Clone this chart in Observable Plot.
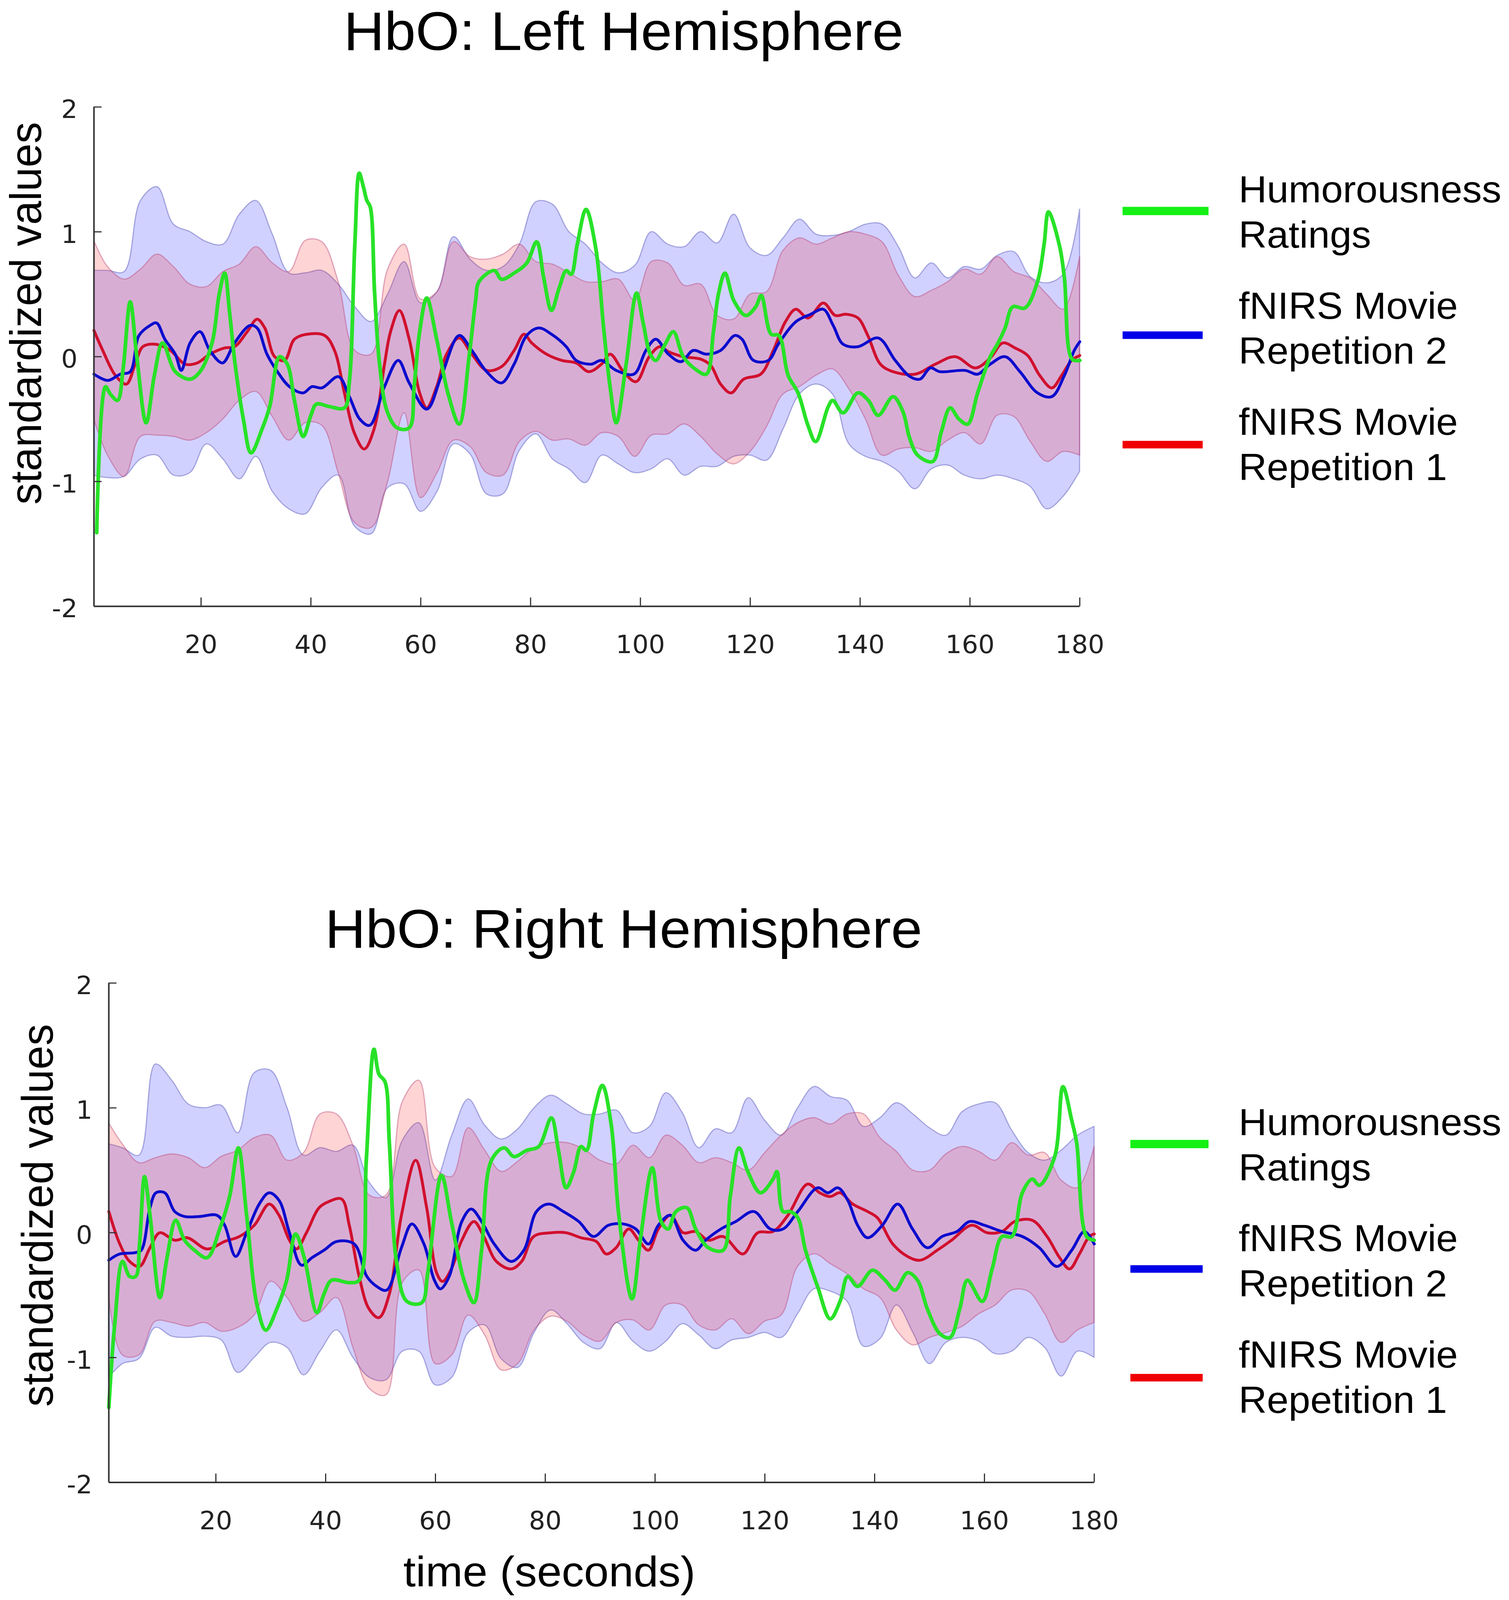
<!DOCTYPE html>
<html><head><meta charset="utf-8">
<script src="https://cdn.jsdelivr.net/npm/d3@7"></script>
<script src="https://cdn.jsdelivr.net/npm/@observablehq/plot@0.6"></script>
<style>
html,body{margin:0;padding:0;background:#fff;overflow:hidden;}
#root{position:relative;width:3862px;height:4239px;background:#fff;overflow:hidden;font-family:"Liberation Sans",Arial,sans-serif;color:#000;transform-origin:0 0;}
.abs{position:absolute;white-space:nowrap;}
.title{font-size:144px;line-height:normal;transform:translateX(-50%);}
.leg{font-size:100px;line-height:120px;}
.sw{position:absolute;}
.xlab{font-size:114px;line-height:normal;transform:translateX(-50%);}
</style></head><body><div id="root"></div>
<script>
// ---------- data ----------
const titles = ["HbO: Left Hemisphere", "HbO: Right Hemisphere"];
const yLabel = "standardized values";
const xLabel = "time (seconds)";
const legendLabels = [["Humorousness", "Ratings"], ["fNIRS Movie", "Repetition 2"], ["fNIRS Movie", "Repetition 1"]];
const xDomain = [0.5, 180];
const yDomain = [-2, 2];
const xTicks = [20, 40, 60, 80, 100, 120, 140, 160, 180];
const yTicks = [-2, -1, 0, 1, 2];

// shared sampling times of the confidence bands
const bandT = [0.5,3,6,9,12,15,18,21,24,27,30,33,36,39,42,45,48,51,54,57,60,63,66,69,72,75,78,81,84,87,90,93,96,99,102,105,108,111,114,117,120,123,126,129,132,135,138,141,144,147,150,153,156,159,162,165,168,171,174,177,180];

// ---- Left hemisphere ----
const leftBlueHi = [0.69,0.69,0.68,1.25,1.36,1.06,1.0,0.92,0.9,1.14,1.25,0.98,0.67,0.67,0.69,0.58,0.4,0.28,0.5,0.76,0.43,0.52,0.96,0.78,0.69,0.72,0.9,1.24,1.22,1.0,0.9,0.75,0.67,0.73,1.0,0.9,0.88,1.0,0.91,1.14,0.87,0.81,0.95,1.1,0.98,0.97,1.0,1.06,1.06,0.88,0.63,0.75,0.63,0.72,0.7,0.81,0.84,0.64,0.59,0.66,1.18];
const leftBlueLo = [-0.95,-0.97,-0.96,-0.82,-0.79,-0.95,-0.93,-0.7,-0.82,-0.98,-0.8,-1.08,-1.22,-1.26,-1.05,-0.95,-1.36,-1.42,-1.05,-1.02,-1.24,-1.08,-0.7,-0.78,-1.1,-1.1,-0.75,-0.62,-0.82,-0.9,-1.01,-0.79,-0.86,-0.93,-0.9,-0.82,-0.95,-0.88,-0.88,-0.8,-0.79,-0.83,-0.58,-0.3,-0.22,-0.3,-0.7,-0.8,-0.84,-0.92,-1.06,-0.9,-0.87,-0.95,-0.98,-0.95,-0.98,-1.04,-1.22,-1.12,-0.92];
const leftRedHi = [0.93,0.72,0.62,0.7,0.82,0.72,0.58,0.56,0.68,0.74,0.88,0.75,0.68,0.93,0.92,0.6,0.05,0.02,0.7,0.9,0.46,0.52,0.92,0.8,0.78,0.82,0.9,0.76,0.74,0.67,0.6,0.6,0.62,0.45,0.76,0.75,0.57,0.58,0.33,0.3,0.5,0.52,0.85,0.95,0.9,0.95,1.0,0.98,0.92,0.65,0.48,0.53,0.6,0.7,0.66,0.8,0.68,0.63,0.5,0.38,0.8];
const leftRedLo = [-0.5,-0.79,-0.96,-0.64,-0.63,-0.64,-0.67,-0.61,-0.5,-0.35,-0.28,-0.48,-0.67,-0.53,-0.55,-0.93,-1.33,-1.37,-1.0,-0.45,-1.13,-0.93,-0.67,-0.72,-0.93,-0.95,-0.68,-0.6,-0.67,-0.66,-0.71,-0.61,-0.64,-0.8,-0.63,-0.62,-0.54,-0.64,-0.78,-0.86,-0.76,-0.56,-0.3,-0.24,-0.15,-0.1,-0.26,-0.5,-0.79,-0.74,-0.73,-0.76,-0.67,-0.61,-0.7,-0.47,-0.48,-0.68,-0.84,-0.76,-0.79];
const leftGreen = [[1,-1.41],[2.6,-0.24],[3.5,-0.3],[4.8,-0.35],[5.8,-0.1],[7.1,0.44],[8.3,0.0],[10,-0.53],[11.5,-0.15],[13,0.11],[15.3,-0.12],[18,-0.18],[19.8,-0.12],[22,0.11],[23.3,0.5],[24.3,0.67],[25.2,0.35],[26.2,-0.06],[27.7,-0.5],[29.1,-0.77],[31.1,-0.58],[32.5,-0.4],[34.3,0.0],[35.7,-0.06],[37,-0.35],[38.6,-0.64],[40,-0.47],[41,-0.38],[43.4,-0.4],[46.1,-0.41],[47,-0.2],[48,0.9],[48.8,1.47],[49.5,1.37],[50.2,1.25],[50.8,1.2],[51.6,0.51],[52.5,-0.06],[53.9,-0.44],[55.7,-0.57],[57.9,-0.57],[58.8,-0.24],[59.8,0.2],[61.1,0.47],[62.9,0.14],[65,-0.3],[67,-0.54],[68.8,0.0],[70,0.45],[70.6,0.6],[73.4,0.69],[74.7,0.62],[77,0.67],[79.3,0.75],[81.1,0.92],[82.4,0.63],[83.8,0.37],[85.2,0.55],[86.5,0.69],[87.4,0.66],[88.5,0.9],[90.1,1.18],[91.9,0.86],[93.3,0.23],[94.5,-0.25],[95.6,-0.53],[97.4,-0.06],[99.3,0.51],[100.5,0.27],[101.8,0.02],[102.8,-0.03],[104.5,0.1],[106,0.2],[107.8,0.0],[110,-0.1],[112,-0.14],[113.3,0.2],[114.2,0.5],[115.4,0.67],[117,0.45],[119.2,0.33],[121,0.4],[122,0.49],[123.8,0.18],[125.2,0.17],[126.9,-0.15],[128.7,-0.29],[130.5,-0.55],[131.9,-0.68],[134.2,-0.4],[135,-0.35],[136.9,-0.45],[139.6,-0.29],[141.5,-0.35],[143.3,-0.47],[146,-0.32],[147.8,-0.44],[149,-0.65],[150.5,-0.79],[153.2,-0.84],[154.8,-0.6],[156.4,-0.41],[158,-0.5],[159.6,-0.54],[161.4,-0.29],[163.7,0.0],[165,0.1],[166.4,0.23],[167.8,0.4],[170,0.39],[172.3,0.6],[173.5,0.9],[174.3,1.16],[176.3,0.89],[177.2,0.63],[178.6,-0.02],[180,-0.03]];
const leftBlue = [[0.5,-0.14],[3,-0.19],[5.3,-0.14],[7.1,-0.12],[8.7,0.17],[10.7,0.25],[11.9,0.27],[13.4,0.14],[15.3,0.02],[16.4,-0.11],[18,0.11],[19.8,0.2],[21.6,0.05],[23.9,-0.05],[26.1,0.11],[28.9,0.25],[30.2,0.23],[32,0.02],[33.9,-0.12],[36.1,-0.24],[38.6,-0.29],[40.2,-0.24],[42,-0.25],[45,-0.16],[47,-0.32],[48.9,-0.5],[50.7,-0.55],[53.4,-0.24],[55.9,-0.03],[57.9,-0.21],[61.1,-0.42],[63.8,-0.15],[67,0.17],[69.3,0.05],[72,-0.12],[74.7,-0.21],[77,-0.06],[79.3,0.17],[81.5,0.23],[83.8,0.18],[86.5,0.08],[88.3,-0.03],[91,-0.06],[92.9,-0.03],[95.6,-0.11],[98.8,-0.14],[101,0.05],[102.8,0.14],[105.1,0.02],[107.4,-0.04],[109.6,0.05],[112,0.02],[114.6,0.05],[117.2,0.17],[118.5,0.14],[120.6,-0.03],[123.3,-0.03],[125.1,0.1],[128.3,0.28],[131,0.34],[133.3,0.38],[135.1,0.25],[136.9,0.1],[139.6,0.08],[143.3,0.15],[146.4,-0.03],[149.1,-0.16],[150.9,-0.18],[152.8,-0.09],[154.5,-0.12],[159.1,-0.11],[161.4,-0.14],[163.7,-0.06],[166.4,0.0],[169.1,-0.12],[172.3,-0.29],[174.9,-0.32],[177.2,-0.15],[179,0.05],[180,0.12]];
const leftRed = [[0.5,0.21],[2.1,0.05],[4.4,-0.15],[6.4,-0.22],[8,-0.06],[9.4,0.08],[11.6,0.1],[14.4,0.05],[17.1,-0.06],[19.3,-0.05],[21.6,0.02],[24.3,0.07],[26.1,0.08],[28.4,0.2],[30.2,0.3],[31.6,0.23],[33.4,0.0],[35.2,-0.03],[37,0.14],[39.3,0.18],[42.5,0.17],[44.3,0.05],[46.1,-0.29],[47.9,-0.61],[49.7,-0.74],[51.5,-0.58],[53.4,-0.06],[54.5,0.2],[56.1,0.37],[57.9,0.14],[59.8,-0.29],[61.1,-0.41],[62.9,-0.24],[64.7,0.02],[67,0.15],[69.3,0.02],[72,-0.11],[74.7,-0.08],[77,0.05],[78.8,0.18],[80.2,0.11],[82.9,0.02],[85.7,-0.03],[88.3,-0.05],[90.6,-0.12],[92.9,-0.06],[94.5,0.02],[96.9,-0.12],[99.2,-0.2],[101.6,0.0],[103.5,0.08],[105.1,0.04],[107.8,0.0],[111,-0.02],[112.8,-0.07],[114.6,-0.22],[116.5,-0.29],[118.8,-0.18],[121.9,-0.14],[124.2,0.05],[126.4,0.28],[128.3,0.38],[130.5,0.31],[133.3,0.43],[135.5,0.33],[137.4,0.34],[139.6,0.31],[141.4,0.17],[143.7,-0.06],[146,-0.12],[150,-0.14],[153.7,-0.06],[157.3,0.0],[161,-0.09],[163.7,-0.01],[166,0.11],[168.2,0.07],[170.5,0.01],[172.7,-0.15],[174.9,-0.25],[176.7,-0.15],[178.5,-0.03],[180,0.01]];

// ---- Right hemisphere ----
const rightBlueHi = [0.71,0.68,0.62,1.35,1.22,1.03,1.0,1.02,0.8,1.28,1.3,1.0,0.62,0.68,0.65,0.7,0.4,0.28,0.74,0.88,0.42,0.78,1.07,0.86,0.75,0.83,1.0,1.1,1.03,0.95,0.95,0.98,0.8,0.85,1.12,0.96,0.68,0.83,0.8,1.08,0.9,0.78,1.0,1.17,1.09,1.06,0.85,0.92,1.04,0.95,0.84,0.78,0.97,1.03,1.04,0.82,0.64,0.58,0.66,0.78,0.85];
const rightBlueLo = [-1.16,-1.05,-1.01,-0.76,-0.83,-0.84,-0.83,-0.86,-1.12,-1.0,-0.88,-0.92,-1.14,-0.95,-0.78,-1.0,-1.16,-1.18,-0.95,-0.95,-1.22,-1.16,-0.8,-0.74,-1.01,-1.08,-0.8,-0.62,-0.73,-0.88,-0.93,-0.72,-0.87,-0.95,-0.87,-0.73,-0.82,-0.93,-0.86,-0.84,-0.8,-0.84,-0.65,-0.45,-0.47,-0.55,-0.91,-0.85,-0.58,-0.8,-1.05,-0.88,-0.84,-0.87,-0.97,-0.95,-0.84,-0.92,-1.15,-0.95,-1.0];
const rightRedHi = [0.88,0.71,0.56,0.6,0.63,0.6,0.52,0.61,0.66,0.76,0.78,0.58,0.64,0.95,0.95,0.7,0.3,0.3,1.05,1.22,0.52,0.45,0.84,0.66,0.49,0.57,0.68,0.72,0.72,0.67,0.58,0.55,0.7,0.6,0.78,0.7,0.56,0.6,0.56,0.5,0.64,0.78,0.88,0.92,0.87,0.95,0.95,0.76,0.65,0.5,0.5,0.63,0.69,0.65,0.58,0.72,0.62,0.64,0.42,0.36,0.69];
const rightRedLo = [-0.5,-0.98,-0.98,-0.71,-0.72,-0.75,-0.72,-0.79,-0.76,-0.66,-0.39,-0.52,-0.71,-0.64,-0.52,-0.92,-1.25,-1.3,-0.4,-0.3,-1.05,-0.98,-0.66,-0.82,-1.1,-1.05,-0.78,-0.67,-0.71,-0.82,-0.87,-0.72,-0.7,-0.78,-0.58,-0.58,-0.74,-0.78,-0.69,-0.81,-0.71,-0.66,-0.27,-0.17,-0.25,-0.33,-0.45,-0.52,-0.78,-0.9,-0.84,-0.8,-0.75,-0.65,-0.58,-0.46,-0.47,-0.65,-0.88,-0.78,-0.72];
const rightGreen = [[0.5,-1.4],[1.6,-0.72],[3,-0.23],[4.3,-0.35],[5.4,-0.35],[6.1,-0.09],[7,0.45],[8,0.14],[9.8,-0.52],[11.1,-0.2],[12.7,0.1],[14.3,-0.06],[16.1,-0.14],[18.4,-0.2],[20.7,0.03],[22.5,0.29],[24.1,0.68],[25.6,0.14],[27.5,-0.58],[29.1,-0.78],[31.1,-0.61],[32.9,-0.38],[34.5,-0.01],[36.1,-0.2],[38.4,-0.64],[39.7,-0.49],[41.1,-0.38],[44.3,-0.4],[46.1,-0.38],[47.4,0.58],[48.8,1.47],[49.7,1.27],[50.8,1.21],[51.6,0.72],[52.9,-0.23],[54.8,-0.55],[57.5,-0.56],[58.6,-0.32],[61.1,0.46],[62.9,0.09],[65.2,-0.38],[67,-0.56],[68.4,-0.14],[70.2,0.58],[72.5,0.68],[74.3,0.61],[76.6,0.66],[78.8,0.69],[81.1,0.92],[82.4,0.66],[83.8,0.36],[85.2,0.49],[86.5,0.69],[87.5,0.66],[88.8,0.95],[90.4,1.18],[92,0.87],[93.4,0.14],[95.8,-0.53],[97.4,-0.03],[99.5,0.52],[101.1,0.09],[102.4,0.03],[103.8,0.17],[105.8,0.2],[107.4,0.03],[109.7,-0.12],[112.4,-0.14],[113.7,0.29],[115.3,0.68],[116.9,0.49],[119.2,0.32],[121.5,0.43],[122.2,0.49],[123.3,0.17],[124.6,0.17],[126,0.12],[127.4,-0.14],[129.6,-0.43],[131.9,-0.69],[133.7,-0.55],[135.1,-0.35],[136.9,-0.43],[139.6,-0.3],[141.9,-0.38],[143.7,-0.46],[146,-0.32],[147.8,-0.38],[149.6,-0.61],[151.9,-0.81],[153.7,-0.84],[155.5,-0.61],[156.9,-0.38],[159.6,-0.55],[161.4,-0.29],[163.2,-0.03],[165,-0.03],[166.9,0.32],[168.7,0.43],[170,0.38],[172.8,0.61],[174.3,1.17],[175.9,0.9],[176.8,0.72],[178.6,-0.03],[180,-0.06]];
const rightBlue = [[0.5,-0.22],[2.5,-0.17],[5.2,-0.16],[6.4,-0.14],[8,0.2],[9.1,0.32],[10.7,0.32],[12.5,0.17],[14.3,0.13],[17,0.13],[20.2,0.14],[21.6,0.06],[23.6,-0.19],[25.6,0.0],[27.9,0.23],[29.7,0.32],[31.5,0.26],[33.4,0.0],[35.6,-0.26],[37.5,-0.2],[39.7,-0.14],[42,-0.07],[45.2,-0.09],[47.5,-0.35],[49.3,-0.43],[51.1,-0.46],[53.8,-0.12],[55.7,0.07],[57.9,-0.09],[59.8,-0.38],[60.9,-0.45],[62.5,-0.35],[64.8,0.09],[66.5,0.19],[68.4,0.09],[70.7,-0.09],[73.8,-0.23],[76.1,-0.14],[78.4,0.17],[80.6,0.23],[83.3,0.17],[86.1,0.09],[88.8,-0.03],[91.5,0.06],[94.3,0.07],[96.5,0.03],[98.8,-0.09],[100.6,0.06],[102.8,0.14],[105.1,-0.06],[107.4,-0.14],[109.2,-0.06],[112,0.03],[114.7,0.09],[118,0.17],[121,0.03],[123.3,0.03],[126,0.17],[129.6,0.36],[131.5,0.32],[133.3,0.36],[135.1,0.26],[136.9,0.06],[138.7,-0.04],[141.4,0.06],[144.2,0.23],[146.9,0.03],[149.6,-0.12],[152.3,-0.03],[155,0.01],[157.3,0.09],[160,0.06],[163.2,0.01],[166.9,-0.03],[170,-0.12],[173.2,-0.27],[175.9,-0.14],[178.2,0.01],[180,-0.09]];
const rightRed = [[0.5,0.17],[2.5,-0.09],[4.3,-0.23],[6.1,-0.27],[8,-0.12],[9.8,0.0],[12.5,-0.06],[14.8,-0.04],[18.4,-0.13],[21.6,-0.07],[24.3,-0.03],[27,0.06],[29.7,0.23],[31.5,0.14],[33.4,-0.06],[34.7,-0.13],[36.5,0.0],[38.8,0.2],[40.6,0.25],[42.9,0.27],[44.3,0.06],[46.1,-0.35],[47.9,-0.61],[49.7,-0.68],[51.6,-0.49],[53.8,0.14],[56.4,0.58],[58.4,0.2],[60.2,-0.32],[61.3,-0.39],[62.9,-0.29],[64.8,-0.06],[67,0.09],[68.8,-0.03],[71.1,-0.23],[73.8,-0.29],[75.7,-0.23],[77.9,-0.03],[81.1,0.0],[83.8,0.0],[86.5,-0.04],[89.3,-0.07],[91.1,-0.17],[92.9,-0.12],[95.2,0.03],[97,-0.06],[98.8,-0.14],[100.6,0.03],[102.8,0.14],[105.1,0.0],[107.4,0.01],[109.7,-0.06],[112.4,-0.03],[116,-0.17],[118.7,0.0],[121.5,0.01],[124.2,0.14],[127.8,0.39],[130,0.32],[131.9,0.29],[133.7,0.32],[136,0.23],[138.7,0.17],[140.5,0.12],[143.3,-0.09],[146,-0.19],[148.3,-0.22],[151.4,-0.14],[154,-0.06],[157.7,0.06],[160.5,0.0],[163.2,0.01],[165.5,0.09],[168.7,0.1],[171.4,-0.03],[173.7,-0.2],[175.5,-0.29],[177.3,-0.17],[179.1,-0.03],[180,-0.01]];

// ---------- styles ----------
const C = {
  green: "rgb(40,226,40)", blue: "rgb(12,12,205)", red: "rgb(208,16,46)",
  legGreen: "rgb(20,240,20)", legBlue: "rgb(0,0,232)", legRed: "rgb(240,0,0)",
  axis: "#333"
};

function chart(d, geo) {
  const rows = bandT.map((t, i) => ({t, blo: d.blueLo[i], bhi: d.blueHi[i], rlo: d.redLo[i], rhi: d.redHi[i]}));
  const X = p => p[0], Y = p => p[1];
  return Plot.plot({
    width: geo.width, height: geo.height,
    marginLeft: geo.marginLeft, marginRight: geo.marginRight,
    marginTop: geo.marginTop, marginBottom: geo.marginBottom,
    x: {domain: xDomain}, y: {domain: yDomain},
    style: {fontFamily: "'DejaVu Sans', sans-serif", fontSize: "66px", color: "#222", background: "transparent", overflow: "visible"},
    marks: [
      Plot.areaY(rows, {x: "t", y1: "blo", y2: "bhi", curve: "catmull-rom", fill: "rgb(0,0,255)", fillOpacity: 0.18, stroke: "rgb(80,80,185)", strokeOpacity: 0.45, strokeWidth: 3}),
      Plot.areaY(rows, {x: "t", y1: "rlo", y2: "rhi", curve: "catmull-rom", fill: "rgb(255,0,0)", fillOpacity: 0.17, stroke: "rgb(185,70,120)", strokeOpacity: 0.45, strokeWidth: 3}),
      Plot.line(d.red, {x: X, y: Y, curve: "catmull-rom", stroke: C.red, strokeWidth: 7.5}),
      Plot.line(d.blue, {x: X, y: Y, curve: "catmull-rom", stroke: C.blue, strokeWidth: 7.5}),
      Plot.line(d.green, {x: X, y: Y, curve: "catmull-rom", stroke: C.green, strokeWidth: 9.5}),
      Plot.ruleX([xDomain[0]], {stroke: C.axis, strokeWidth: 4}),
      Plot.ruleY([yDomain[0]], {stroke: C.axis, strokeWidth: 4}),
      Plot.axisX({ticks: xTicks, tickSize: 0, tickPadding: 77, fontSize: 66, label: null, tickFormat: v => String(v)}),
      Plot.axisX({ticks: xTicks, tickSize: -23, fill: "none", label: null, stroke: C.axis, strokeWidth: 3}),
      Plot.axisY({ticks: yTicks, tickSize: 0, tickPadding: 42, fontSize: 66, label: null, dy: 8, tickFormat: v => String(v)}),
      Plot.axisY({ticks: yTicks, tickSize: -20, fill: "none", label: null, stroke: C.axis, strokeWidth: 3}),
      Plot.text([yLabel], {text: v => v, frameAnchor: "left", textAnchor: "middle", lineAnchor: "middle", rotate: -90, dx: geo.ylabDx, dy: geo.ylabDy, fontSize: 114, fontFamily: "'Liberation Sans', Arial, sans-serif", fill: "#000"})
    ]
  });
}

const root = document.getElementById("root");
// the photographed viewport may be shorter than the 4239px page; fit the layout to it
const fitY = Math.min(1, window.innerHeight / 4239);
root.style.transform = "scale(1," + fitY + ")";

function place(el, left, top) {
  el.style.position = "absolute"; el.style.left = left + "px"; el.style.top = top + "px";
  root.appendChild(el); return el;
}
function textDiv(cls, html, left, top) {
  const el = document.createElement("div");
  el.className = "abs " + cls; el.innerHTML = html;
  return place(el, left, top);
}
function swatch(color, left, top, w, h) {
  const el = document.createElement("div");
  el.className = "sw"; el.style.background = color; el.style.width = w + "px"; el.style.height = h + "px";
  return place(el, left, top);
}

const panels = [
  {data: {blueHi: leftBlueHi, blueLo: leftBlueLo, redHi: leftRedHi, redLo: leftRedLo, green: leftGreen, blue: leftBlue, red: leftRed},
   geo: {width: 2800, height: 1576, marginLeft: 240, marginRight: 37, marginTop: 63, marginBottom: 190, ylabDx: -172, ylabDy: -115},
   svgTop: 220, titleTop: 0,
   legend: {lineX: 2873, lines: [[548, 220, 22], [878, 205, 20], [1168, 205, 20]], textX: 3170, textTops: [441, 749, 1057]}},
  {data: {blueHi: rightBlueHi, blueLo: rightBlueLo, redHi: rightRedHi, redLo: rightRedLo, green: rightGreen, blue: rightBlue, red: rightRed},
   geo: {width: 2838, height: 1576, marginLeft: 278, marginRight: 38, marginTop: 63, marginBottom: 190, ylabDx: -180, ylabDy: -46},
   svgTop: 2541, titleTop: 2379,
   legend: {lineX: 2893, lines: [[3020, 200, 22], [3352, 185, 20], [3640, 185, 20]], textX: 3170, textTops: [2912, 3220, 3528]}}
];
const legColors = [C.legGreen, C.legBlue, C.legRed];

panels.forEach((p, k) => {
  const svg = chart(p.data, p.geo);
  place(svg, 0, p.svgTop);
  textDiv("title", titles[k], 1596, p.titleTop);
  p.legend.lines.forEach(([top, w, h], i) => swatch(legColors[i], p.legend.lineX, top, w, h));
  p.legend.textTops.forEach((top, i) => textDiv("leg", legendLabels[i].join("<br>"), p.legend.textX, top));
});
textDiv("xlab", xLabel, 1406, 4098);
</script></body></html>
